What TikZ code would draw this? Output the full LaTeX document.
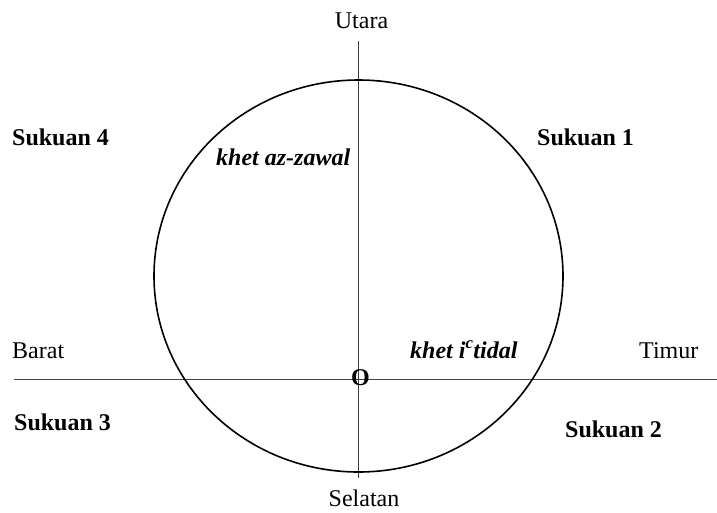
\documentclass[tikz,border=0pt]{standalone}
\usepackage{fontspec}
\setmainfont{Liberation Serif}
\begin{document}
\begin{tikzpicture}[x=1pt,y=-1pt,
  lbl/.style={inner sep=0pt,font=\fontsize{24}{28}\selectfont},
  blbl/.style={lbl,font=\fontsize{24}{28}\selectfont\bfseries},
  bilbl/.style={lbl,font=\fontsize{24}{28}\selectfont\bfseries\itshape},
  axis/.style={line width=1.3pt,draw=black!75},
  ring/.style={line width=1.6pt,draw=black}]
\useasboundingbox[fill=white] (0,0) rectangle (717,512);
% axes
\coordinate (N) at (358.3,41);
\coordinate (S) at (358.3,478);
\coordinate (W) at (14,379.5);
\coordinate (E) at (717,379.5);
\draw[axis] (N) -- (S);
\draw[axis] (W) -- (E);
% circle
\draw[ring] (358.5,276) ellipse [x radius=204.5, y radius=196];
% labels
\node[lbl,anchor=base] (utara) at (361.5,28) {Utara};
\node[lbl,anchor=base] (selatan) at (364,506) {Selatan};
\node[lbl,anchor=base west] (barat) at (12,358) {Barat};
\node[lbl,anchor=base west] (timur) at (639,358) {Timur};
\node[blbl,anchor=base west] (s4) at (12,145) {Sukuan 4};
\node[blbl,anchor=base west] (s1) at (537,145) {Sukuan 1};
\node[blbl,anchor=base west] (s3) at (14,430) {Sukuan 3};
\node[blbl,anchor=base west] (s2) at (565,437) {Sukuan 2};
\node[bilbl,anchor=base west] (zawal) at (216,165) {khet az-zawal};
\node[bilbl,anchor=base west] (itidal) at (410,358) {khet i\textsuperscript{c}tidal};
\node[blbl,anchor=base] (o) at (360.5,385) {O};
\end{tikzpicture}
\end{document}
